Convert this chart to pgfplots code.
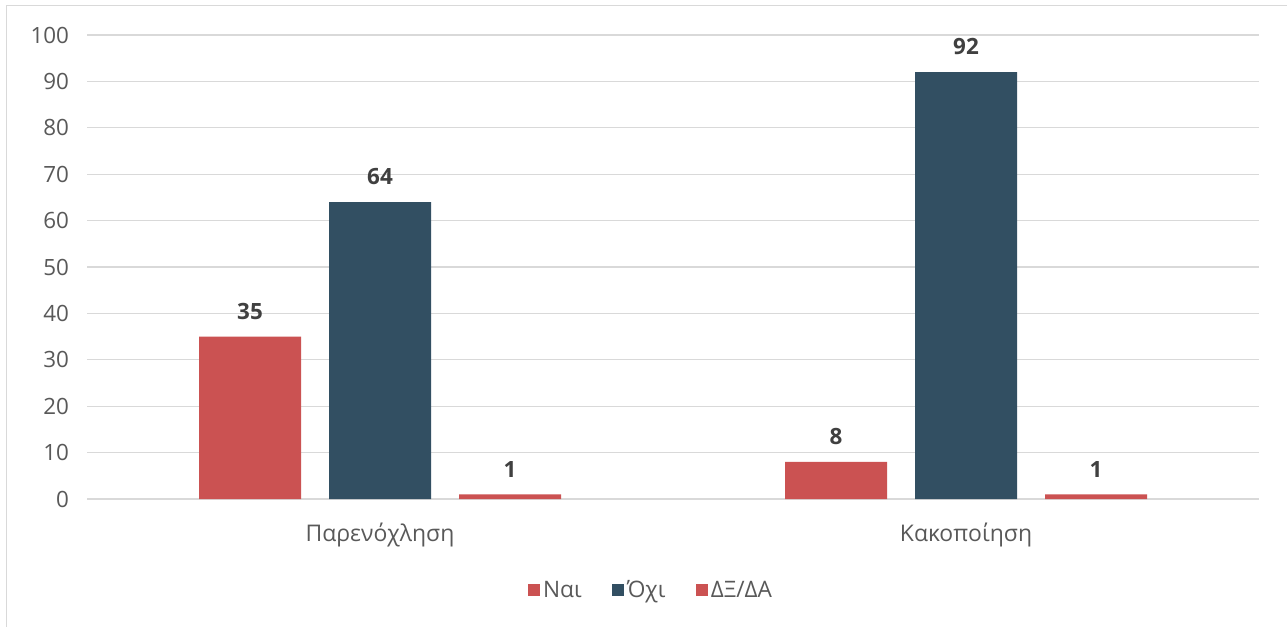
\documentclass[border=0pt]{standalone}
\usepackage{fontspec}
\setmainfont{Open Sans}
\usepackage{pgfplots}
\pgfplotsset{compat=1.18}
\definecolor{cred}{HTML}{CB5252}
\definecolor{cdark}{HTML}{324F62}
\definecolor{cgrid}{HTML}{D9D9D9}
\definecolor{ctick}{HTML}{595959}
\definecolor{clab}{HTML}{404040}
\begin{document}
\begin{tikzpicture}
\useasboundingbox (0,0) rectangle (965.25pt,469.5pt);
\fill[white] (0,0) rectangle (965.25pt,469.5pt);
\draw[cgrid, line width=1.2pt] (4.9pt,-2pt) -- (4.9pt,465.4pt) -- (970pt,465.4pt);
\begin{axis}[
  at={(65.25pt,95.25pt)}, anchor=south west,
  scale only axis, width=879pt, height=348pt,
  xmin=-0.5, xmax=1.5, ymin=0, ymax=100,
  ybar=21pt, bar width=76.5pt,
  xtick={0,1}, xticklabels={Παρενόχληση,Κακοποίηση},
  ytick={0,10,...,100},
  axis line style={draw=none},
  axis x line*=bottom,
  major tick length=0pt,
  ymajorgrids, grid style={cgrid, line width=0.9pt},
  extra y ticks={0}, extra y tick style={grid style={cgrid,line width=1.1pt}, yticklabel=\empty},
  tick label style={font=\fontsize{16.8pt}{19pt}\selectfont, text=ctick},
  /pgf/number format/assume math mode=true,
  yticklabel style={xshift=-10pt},
  xticklabel style={yshift=-14.5pt, font=\fontsize{17.2pt}{19pt}\selectfont},
  nodes near coords,
  every node near coord/.append style={font=\fontsize{16.8pt}{19pt}\selectfont\bfseries, text=clab, inner sep=0pt, yshift=12.5pt},
  legend style={at={(0.4817,-0.196)}, anchor=center, draw=none, legend columns=-1,
    font=\fontsize{17pt}{19pt}\selectfont, text=ctick,
    /tikz/every even column/.append style={column sep=21pt}},
  legend image code/.code={\fill[#1] (0pt,-4.5pt) rectangle (9pt,4.5pt);},
]
\addplot[fill=cred, draw=none] coordinates {(0,35) (1,8)};
\addplot[fill=cdark, draw=none] coordinates {(0,64) (1,92)};
\addplot[fill=cred, draw=none] coordinates {(0,1) (1,1)};
\legend{Ναι,Όχι,ΔΞ/ΔΑ}
\end{axis}
\end{tikzpicture}
\end{document}
